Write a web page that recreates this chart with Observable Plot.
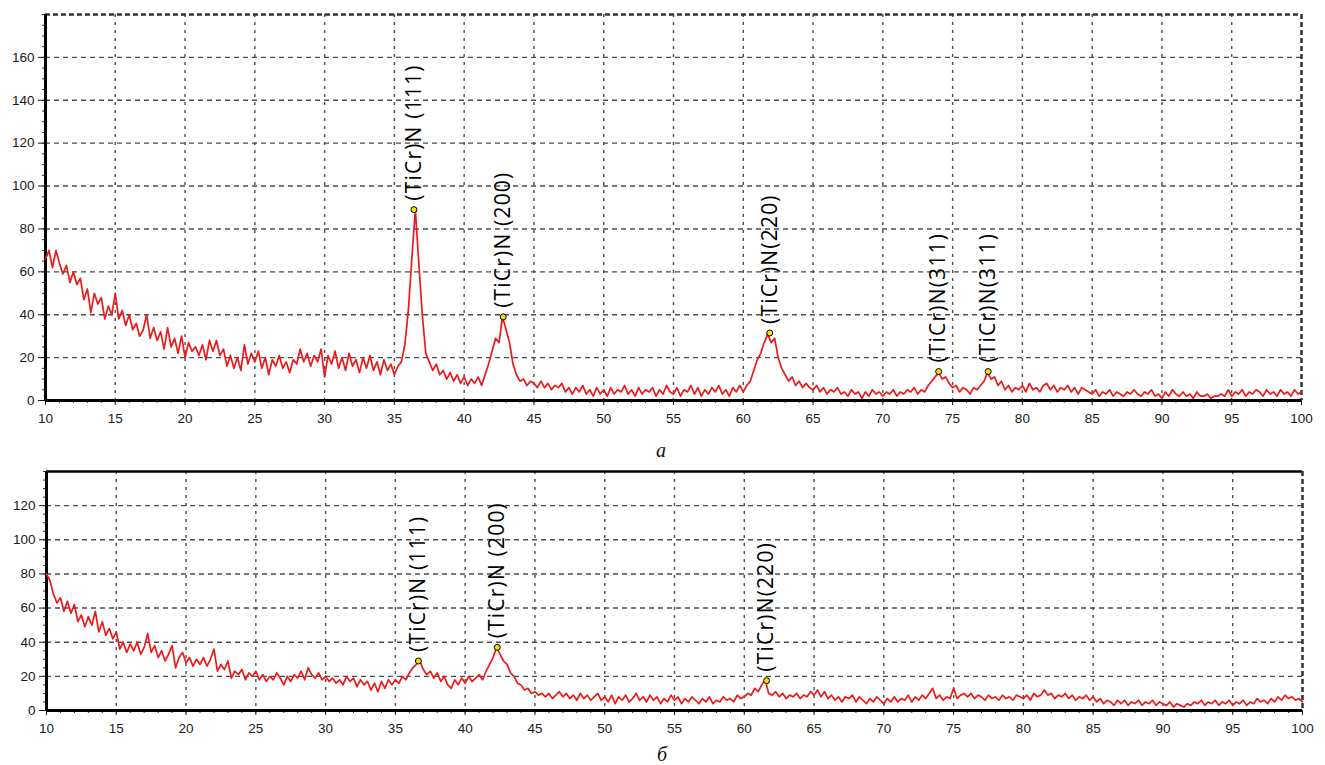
<!DOCTYPE html>
<html><head><meta charset="utf-8">
<script src="https://cdn.jsdelivr.net/npm/d3@7"></script>
<script src="https://cdn.jsdelivr.net/npm/@observablehq/plot@0.6"></script>
<style>
body{margin:0;background:#fff;width:1325px;height:765px;position:relative;overflow:hidden}
.panel{position:absolute;left:0}
.lbl{position:absolute;font-family:"Liberation Serif","Times New Roman",serif;font-style:italic;font-size:20px;color:#111;width:40px;text-align:center;line-height:20px}
</style></head><body>
<div id="a" class="panel" style="top:0"></div>
<div class="lbl" style="left:641px;top:440px">а</div>
<div id="b" class="panel" style="top:462px"></div>
<div class="lbl" style="left:642px;top:744px">б</div>
<script>
// sampling grid of the scans (2θ, degrees)
const xStart = 10, xStep = 0.25;

// x tick labels (2θ)
const xTicks = [10,15,20,25,30,35,40,45,50,55,60,65,70,75,80,85,90,95,100];
// y tick labels
const yTicksA = [0,20,40,60,80,100,120,140,160];
const yTicksB = [0,20,40,60,80,100,120];

// panel а: intensity, 10..100 step 0.25
const intensityA = [
66,70,62,70,64,59,63,55,60,54,57,47,52,41,50,45,48,38,44,40,
50,38,42,35,40,33,36,30,33,40,29,34,28,32,24,34,25,29,22,30,
20,27,23,25,21,26,19,28,23,28,21,24,16,21,15,20,14,26,17,22,
18,23,15,20,12,19,16,21,15,18,13,19,17,24,18,22,16,21,18,24,
11,21,17,23,15,20,14,22,16,19,13,20,15,21,14,18,12,19,14,17,
12,16,18,26,42,66,89,64,40,22,18,14,17,12,14,10,13,9,12,8,
11,7,10,8,11,7,12,17,23,29,27,39,33,27,17,12,9,10,7,9,
8,6,9,6,8,5,7,6,8,4,6,3,6,4,7,3,5,2,6,3,
5,2,6,3,5,4,7,3,5,2,6,3,5,4,6,2,5,3,7,4,
3,6,2,5,4,7,3,6,2,5,3,6,4,7,3,5,2,6,4,7,
4,7,9,14,19,22,27,31,27,29,20,15,12,9,11,7,9,6,8,6,
5,7,4,6,3,5,4,6,3,4,2,5,3,4,1,4,2,5,3,4,
2,4,3,5,2,4,3,5,4,6,3,5,4,7,9,11,13,10,11,8,
6,7,4,6,5,3,6,5,7,9,13,10,11,7,9,5,7,4,6,5,
7,4,8,5,6,4,7,8,5,7,4,6,5,7,4,6,3,6,5,4,
3,5,2,4,3,5,2,4,3,2,4,3,5,3,2,4,3,5,2,3,
1,4,2,5,3,2,4,2,3,1,4,2,2,3,1,2,2,3,2,5,
2,4,3,5,2,4,3,5,4,2,5,3,4,2,5,3,4,2,5,3,
4];

// panel б: intensity, 10..100 step 0.25
const intensityB = [
80,76,68,63,66,58,64,57,62,52,56,49,55,50,58,46,52,44,48,42,
46,36,40,34,39,35,40,33,37,45,34,38,31,35,29,33,38,25,31,34,
28,31,26,30,27,31,26,30,36,23,27,24,29,19,23,21,24,18,22,20,
23,18,21,17,20,18,22,19,15,20,17,21,19,23,18,25,21,19,22,18,
20,17,19,16,18,15,20,17,19,14,18,15,17,12,16,11,17,13,18,15,
18,16,20,18,22,25,27,29,24,21,23,19,22,17,20,15,13,18,15,19,
16,20,17,19,21,18,23,27,31,37,33,29,27,22,20,16,15,12,13,10,
11,9,10,8,10,7,9,11,8,10,7,9,6,10,7,9,6,8,10,6,
8,5,9,4,8,6,9,5,7,10,6,8,5,9,6,8,4,7,5,9,
6,8,4,7,5,8,6,4,7,5,8,4,6,5,8,6,7,5,9,7,
8,10,9,13,11,15,18,10,9,11,8,10,7,9,8,10,7,9,8,11,
9,12,8,11,7,9,6,8,5,8,7,9,5,8,6,4,7,5,8,6,
4,7,5,8,5,7,6,9,5,8,6,9,7,10,13,7,9,6,8,7,
13,7,9,10,8,10,7,9,8,6,9,7,8,6,9,7,8,6,9,8,
7,9,6,10,8,9,12,9,10,7,9,8,10,7,9,6,8,7,9,6,
8,5,7,4,6,5,3,6,4,6,3,5,4,6,3,5,4,6,3,5,
4,3,5,2,4,3,2,4,3,5,4,6,3,5,4,6,3,5,4,6,
3,5,4,6,3,5,4,7,5,6,4,7,5,8,6,9,7,8,6,7,
5];

// peak annotations
const peakXA = [36.4, 42.8, 61.9, 74.0, 77.55];
const peakYA = [89, 39, 31.5, 13.5, 13.5];
const peakLabelA = ["(TiCr)N (111)", "(TiCr)N (200)", "(TiCr)N(220)", "(TiCr)N(311)", "(TiCr)N(311)"];
const peakXB = [36.65, 42.3, 61.6];
const peakYB = [29, 37, 17.5];
const peakLabelB = ["(TiCr)N (111)", "(TiCr)N (200)", "(TiCr)N(220)"];

const xMinor = d3.range(10, 100.5, 1);

function panel(values, px, py, plabels, yMax, yTicks, m, frameStyle) {
  const data = values.map((v, i) => ({x: xStart + xStep * i, y: v}));
  const peaks = px.map((x, i) => ({x, y: py[i], label: plabels[i]}));
  const yMinor = d3.range(0, yMax + 0.1, 5);
  const grid = {stroke: "#4d4d4d", strokeOpacity: 1, strokeWidth: 1.4};
  const p = Plot.plot({
    width: 1325,
    height: m.top + m.plot + m.bottom,
    marginLeft: m.left, marginRight: m.right, marginTop: m.top, marginBottom: m.bottom,
    x: {domain: [10, 100], label: null},
    y: {domain: [0, yMax], label: null},
    style: {fontFamily: '"Liberation Sans", Arial, sans-serif', fontSize: "13px", color: "#1a1a1a", background: "#fff", overflow: "visible"},
    marks: [
      Plot.gridX(xTicks.slice(1, -1), {...grid, strokeDasharray: "3,5"}),
      Plot.gridY(yTicks.slice(1), {...grid, strokeDasharray: "5,4"}),
      Plot.axisX(xMinor, {tickSize: 3, tickFormat: () => "", stroke: "#333"}),
      Plot.axisX(xTicks, {tickSize: 5, tickPadding: 8, fontSize: 13.5}),
      Plot.axisY(yMinor, {tickSize: 3, tickFormat: () => "", stroke: "#333"}),
      Plot.axisY(yTicks, {tickSize: 7, tickPadding: 4, fontSize: 13.5}),
      Plot.ruleY([yMax], {stroke: frameStyle.topColor, strokeWidth: 2.5, strokeDasharray: frameStyle.topDash}),
      Plot.ruleX([100], {stroke: "#333", strokeWidth: 2.5, strokeDasharray: "5,3"}),
      Plot.ruleX([10], {stroke: "#000", strokeWidth: 3}),
      Plot.ruleY([0], {stroke: "#000", strokeWidth: 3}),
      Plot.lineY(data, {x: "x", y: "y", stroke: "#ec1b1b", strokeWidth: 1.7, curve: "linear"}),
      Plot.dot(peaks, {x: "x", y: "y", r: 3, fill: "#f2e000", stroke: "#000", strokeWidth: 1}),
      Plot.text(peaks, {x: "x", y: "y", text: "label", rotate: -90, textAnchor: "start", dy: -9,
        fontSize: 21, fontFamily: '"Open Sans", sans-serif', fill: "#000"})
    ]
  });
  p.querySelectorAll('g[aria-label="text"] text').forEach(t => t.style.letterSpacing = "1.2px");
  return p;
}

document.getElementById("a").append(
  panel(intensityA, peakXA, peakYA, peakLabelA, 180, yTicksA,
    {top: 14, plot: 386, bottom: 40, left: 45, right: 24},
    {topColor: "#333", topDash: "5,3"}));
document.getElementById("b").append(
  panel(intensityB, peakXB, peakYB, peakLabelB, 140, yTicksB,
    {top: 9, plot: 239, bottom: 30, left: 46, right: 23},
    {topColor: "#000", topDash: null}));
</script>
</body></html>
